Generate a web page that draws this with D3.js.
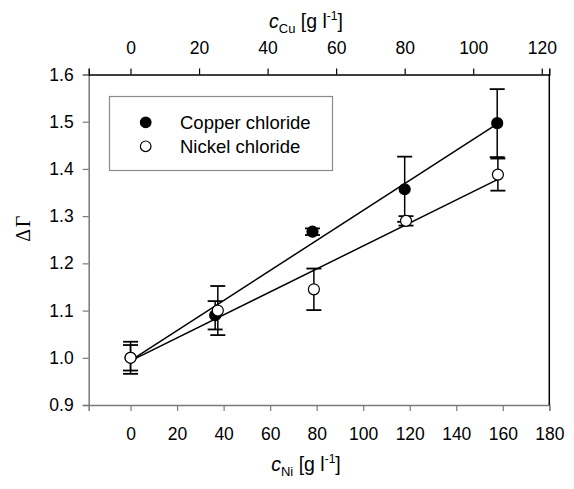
<!DOCTYPE html>
<html>
<head>
<meta charset="utf-8">
<script src="https://cdn.jsdelivr.net/npm/d3@7"></script>
<style>
  html, body { margin: 0; padding: 0; background: #fff; }
  svg { display: block; font-family: "Liberation Sans", Arial, sans-serif; }
</style>
</head>
<body>
<svg id="chart" width="574" height="489"></svg>
<script>
// Nickel chloride: concentration [g/l], relative change, error half-width
const niConc  = [0, 37.5, 78.8, 118.4, 157.9];
const niGamma = [1.000, 1.100, 1.145, 1.290, 1.388];
const niErr   = [0.034, 0.052, 0.044, 0.010, 0.034];

// Copper chloride
const cuConc  = [0, 24.7, 53.1, 80.0, 107.0];
const cuGamma = [1.000, 1.090, 1.267, 1.357, 1.497];
const cuErr   = [0.027, 0.030, 0.007, 0.069, 0.072];

const niTicks = [0, 20, 40, 60, 80, 100, 120, 140, 160, 180];
const cuTicks = [0, 20, 40, 60, 80, 100, 120];
const yTicks  = [0.9, 1.0, 1.1, 1.2, 1.3, 1.4, 1.5, 1.6];

const legendLabels = ["Copper chloride", "Nickel chloride"];

const W = 574, H = 489;
const margin = { left: 88.7, top: 74.5, right: 24.7, bottom: 84 };
const x0 = margin.left, x1 = W - margin.right;
const y0 = H - margin.bottom, y1 = margin.top;

const xNi = d3.scaleLinear().domain([-18, 180]).range([x0, x1]);
const xCu = d3.scaleLinear().domain([-12.2, 122.2]).range([x0, x1]);
const y   = d3.scaleLinear().domain([0.9, 1.6]).range([y0, y1]);

const svg = d3.select("#chart");
const axisGray = "#7a7a7a";
const fontSize = 17.5;

// Bottom axis (Ni concentration)
const gB = svg.append("g").attr("transform", `translate(0,${y0})`)
  .call(d3.axisBottom(xNi).tickValues(niTicks).tickFormat(d3.format("d")).tickSizeOuter(0).tickSize(6).tickPadding(16.5));
gB.select(".domain").attr("stroke", axisGray).attr("stroke-width", 1.5);
gB.selectAll(".tick line").attr("stroke", axisGray).attr("stroke-width", 1.2);
gB.selectAll(".tick text").attr("font-size", fontSize).attr("fill", "#000")
  .attr("font-family", "Liberation Sans, Arial, sans-serif");

// Left axis
const gL = svg.append("g").attr("transform", `translate(${x0},0)`)
  .call(d3.axisLeft(y).tickValues(yTicks).tickFormat(d3.format(".1f")).tickSizeOuter(0).tickSize(6).tickPadding(9));
gL.select(".domain").attr("stroke", axisGray).attr("stroke-width", 1.5);
gL.selectAll(".tick line").attr("stroke", axisGray).attr("stroke-width", 1.2);
gL.selectAll(".tick text").attr("font-size", fontSize).attr("fill", "#000")
  .attr("font-family", "Liberation Sans, Arial, sans-serif");

// Top axis (Cu concentration)
const gT = svg.append("g").attr("transform", `translate(0,${y1})`)
  .call(d3.axisTop(xCu).tickValues(cuTicks).tickFormat(d3.format("d")).tickSizeOuter(0).tickSize(6).tickPadding(15));
gT.select(".domain").attr("stroke", "#000").attr("stroke-width", 1.5);
gT.selectAll(".tick line").attr("stroke", "#000").attr("stroke-width", 1.2);
gT.selectAll(".tick text").attr("font-size", fontSize).attr("fill", "#000")
  .attr("font-family", "Liberation Sans, Arial, sans-serif");

// Right frame line
svg.append("line")
  .attr("x1", x1).attr("x2", x1).attr("y1", y1).attr("y2", y0)
  .attr("stroke", "#000").attr("stroke-width", 1.5);

// Axis titles
function concTitle(sel, sub) {
  sel.append("tspan").attr("font-style", "italic").text("c");
  sel.append("tspan").attr("font-size", 13).attr("dy", 4.5).text(sub);
  sel.append("tspan").attr("dy", -4.5).text(" [g l");
  sel.append("tspan").attr("font-size", 12).attr("dy", -8).text("-1");
  sel.append("tspan").attr("dy", 8).text("]");
}
const titleX = 306;
const topTitle = svg.append("text")
  .attr("x", titleX).attr("y", 28)
  .attr("text-anchor", "middle").attr("font-size", 19.5);
concTitle(topTitle, "Cu");

const botTitle = svg.append("text")
  .attr("x", titleX).attr("y", 471)
  .attr("text-anchor", "middle").attr("font-size", 19.5);
concTitle(botTitle, "Ni");

svg.append("text")
  .attr("transform", `translate(30,228) rotate(-90)`)
  .attr("text-anchor", "middle")
  .attr("font-family", "Liberation Serif, Times New Roman, serif")
  .attr("font-size", 20)
  .attr("letter-spacing", 1.5)
  .text("ΔΓ");

// Least-squares fit for a series, drawn from zero to its last concentration
function fit(xs, ys) {
  const mx = d3.mean(xs), my = d3.mean(ys);
  let sxy = 0, sxx = 0;
  xs.forEach((v, i) => { sxy += (v - mx) * (ys[i] - my); sxx += (v - mx) * (v - mx); });
  const b = sxy / sxx, a = my - b * mx;
  return [[xs[0], a + b * xs[0]], [xs[xs.length - 1], a + b * xs[xs.length - 1]]];
}

const plot = svg.append("g");

function drawSeries(xs, ys, es, xScale, filled) {
  const pts = xs.map((v, i) => ({ x: v, y: ys[i], e: es[i] }));
  const line = d3.line().x(d => xScale(d[0])).y(d => y(d[1]));
  plot.append("path").datum(fit(xs, ys))
    .attr("d", line).attr("fill", "none").attr("stroke", "#000").attr("stroke-width", 1.5);

  const cap = 7.5;
  const eb = plot.append("g").selectAll("g").data(pts).join("g");
  eb.append("line")
    .attr("x1", d => xScale(d.x)).attr("x2", d => xScale(d.x))
    .attr("y1", d => y(d.y - d.e)).attr("y2", d => y(d.y + d.e))
    .attr("stroke", "#000").attr("stroke-width", 1.5);
  eb.append("line")
    .attr("x1", d => xScale(d.x) - cap).attr("x2", d => xScale(d.x) + cap)
    .attr("y1", d => y(d.y + d.e)).attr("y2", d => y(d.y + d.e))
    .attr("stroke", "#000").attr("stroke-width", 1.8);
  eb.append("line")
    .attr("x1", d => xScale(d.x) - cap).attr("x2", d => xScale(d.x) + cap)
    .attr("y1", d => y(d.y - d.e)).attr("y2", d => y(d.y - d.e))
    .attr("stroke", "#000").attr("stroke-width", 1.8);

  plot.append("g").selectAll("circle").data(pts).join("circle")
    .attr("cx", d => xScale(d.x)).attr("cy", d => y(d.y)).attr("r", 5.5)
    .attr("fill", filled ? "#000" : "#fff")
    .attr("stroke", "#000").attr("stroke-width", 1.2);
}

drawSeries(cuConc, cuGamma, cuErr, xCu, true);
drawSeries(niConc, niGamma, niErr, xNi, false);

// Legend
const lg = svg.append("g");
lg.append("rect")
  .attr("x", 109.5).attr("y", 96.5).attr("width", 223).attr("height", 74)
  .attr("fill", "#fff").attr("stroke", "#8a8a8a").attr("stroke-width", 1.2);
legendLabels.forEach((t, i) => {
  const cy = 122.3 + i * 24;
  lg.append("circle").attr("cx", 145.7).attr("cy", cy).attr("r", 5.3)
    .attr("fill", i === 0 ? "#000" : "#fff").attr("stroke", "#000").attr("stroke-width", 1.2);
  lg.append("text").attr("x", 180).attr("y", cy + 6.3)
    .attr("font-size", 18.5).text(t);
});
</script>
</body>
</html>
